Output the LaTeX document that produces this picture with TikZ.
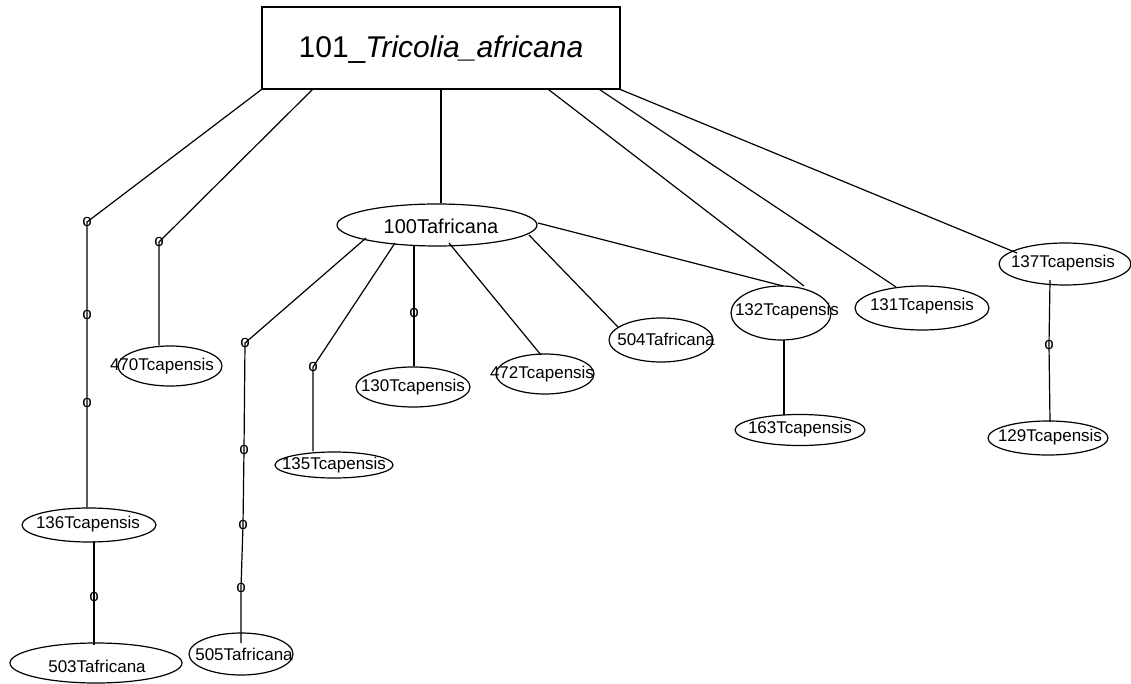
\documentclass[tikz,border=0pt]{standalone}
\usepackage{fontspec}
\setmainfont{Liberation Sans}
\usetikzlibrary{shapes.geometric,calc}
\tikzset{
  ell/.style={draw, ellipse, inner sep=0pt, line width=1.2pt},
  lbl/.style={inner sep=0pt, font=\fontsize{17}{20}\selectfont},
  mk/.style={inner sep=0pt, font=\fontsize{17}{20}\selectfont},
  con/.style={line width=1.2pt},
}
\begin{document}
\begin{tikzpicture}[x=1pt,y=-1pt]
\useasboundingbox (0,0) rectangle (1131,684);
% root box
\node[draw, line width=1.2pt, minimum width=358pt, minimum height=82pt, inner sep=0pt] (box) at (441,48) {};
\node[inner sep=0pt, font=\fontsize{30}{34}\selectfont] (title) at (441,50) {101\_\textit{Tricolia\_africana}};
% ellipses
\node[ell, minimum width=200pt, minimum height=42pt] (e100) at (437,225) {};
\node[ell, minimum width=134pt, minimum height=34pt] (e136) at (89,525) {};
\node[ell, minimum width=172pt, minimum height=40pt] (e503) at (96,663) {};
\node[ell, minimum width=104pt, minimum height=42pt] (e505) at (241,654) {};
\node[ell, minimum width=104pt, minimum height=40pt] (e470) at (170,366) {};
\node[ell, minimum width=118pt, minimum height=26pt] (e135) at (334,465) {};
\node[ell, minimum width=114pt, minimum height=40pt] (e130) at (413,387) {};
\node[ell, minimum width=98pt, minimum height=40pt] (e472) at (545,374) {};
\node[ell, minimum width=104pt, minimum height=44pt] (e504) at (661,340) {};
\node[ell, minimum width=100pt, minimum height=54pt] (e132) at (781,313) {};
\node[ell, minimum width=130pt, minimum height=31pt] (e163) at (800,430) {};
\node[ell, minimum width=134pt, minimum height=44pt] (e131) at (922,308) {};
\node[ell, minimum width=132pt, minimum height=42pt] (e137) at (1065,264) {};
\node[ell, minimum width=120pt, minimum height=34pt] (e129) at (1048,438) {};
% labels
\node[inner sep=0pt, font=\fontsize{20}{24}\selectfont] (t100) at (441,226) {100Tafricana};
\node[lbl] (t136) at (88,524) {136Tcapensis};
\node[lbl] (t503) at (97,666) {503Tafricana};
\node[lbl] (t505) at (244,654) {505Tafricana};
\node[lbl] (t470) at (162,366) {470Tcapensis};
\node[lbl] (t135) at (334,465) {135Tcapensis};
\node[lbl] (t130) at (413,387) {130Tcapensis};
\node[lbl] (t472) at (542,374) {472Tcapensis};
\node[lbl] (t504) at (666,339) {504Tafricana};
\node[lbl] (t132) at (787,311) {132Tcapensis};
\node[lbl] (t163) at (800,429) {163Tcapensis};
\node[lbl] (t131) at (922,306) {131Tcapensis};
\node[lbl] (t137) at (1063,263) {137Tcapensis};
\node[lbl] (t129) at (1050,437) {129Tcapensis};
% mutation markers
\node[mk] (o1) at (87,222) {o};
\node[mk] (o2) at (87,315) {o};
\node[mk] (o3) at (87,403) {o};
\node[mk] (o4) at (159,242) {o};
\node[mk] (o5) at (245,343) {o};
\node[mk] (o6) at (244,450) {o};
\node[mk] (o7) at (243,525) {o};
\node[mk] (o8) at (241,588) {o};
\node[mk] (o9) at (94,597) {o};
\node[mk] (o10) at (313,367) {o};
\node[mk] (o11) at (414,313) {o};
\node[mk] (o12) at (1049,345) {o};
% connectors from root
\draw[con] (box.south west) -- (o1.center) -- (o2.center) -- (o3.center) -- (o3.center |- e136.north);
\draw[con] ([xshift=51pt]box.south west) -- (o4.center) -- (o4.center |- e470.north);
\draw[con] (box.south) -- (box.south |- e100.north);
\draw[con] ([xshift=-72pt]box.south east) -- ($(e132)+(23,-27)$);
\draw[con] ([xshift=-21pt]box.south east) -- ($(e131)+(-26,-21)$);
\draw[con] (box.south east) -- ($(e137)+(-48,-11)$);
% connectors from 100Tafricana
\draw[con] ($(e100)+(101,-2)$) -- ($(e132)+(2,-27)$);
\draw[con] ($(e100)+(92,10)$) -- ($(e504)+(-43,-13)$);
\draw[con] ($(e100)+(12,18)$) -- ($(e472)+(-4,-19)$);
\draw[con] ($(e100)+(-23,20)$) -- (o11.center) -- (o11.center |- e130.north);
\draw[con] ($(e100)+(-42,18)$) -- (o10.center) -- (o10.center |- e135.north);
\draw[con] ($(e100)+(-71,13)$) -- (o5.center) -- (o6.center) -- (o7.center) -- (o8.center) -- ($(e505)+(0,-11)$);
% other connectors
\draw[con] ($(e136)+(5,16)$) -- (o9.center) -- ($(e503)+(-2,-18)$);
\draw[con] ($(e132)+(3,27)$) -- ($(e163)+(-16,-15)$);
\draw[con] ($(e137)+(-15,16)$) -- (o12.center) -- ($(e129)+(2,-16)$);
\end{tikzpicture}
\end{document}
